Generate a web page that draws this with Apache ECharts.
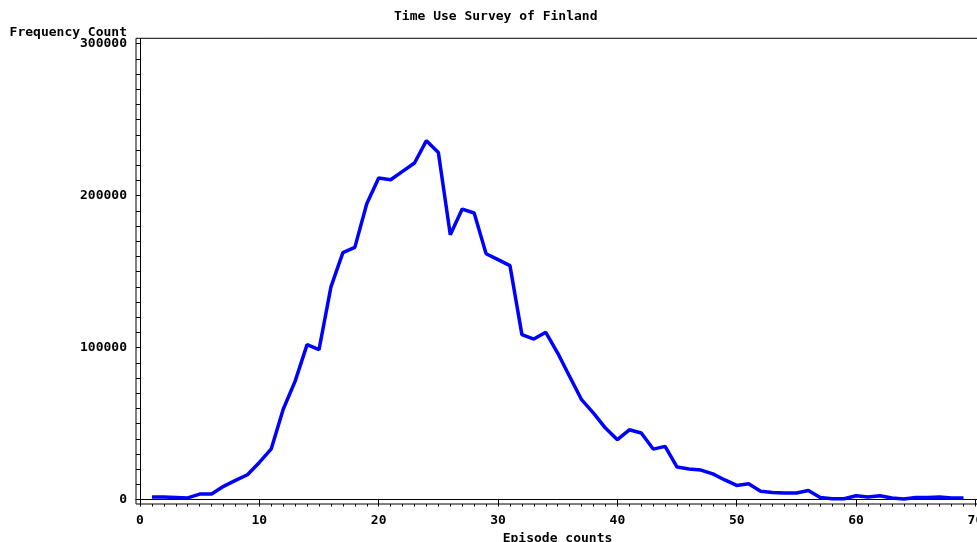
<!DOCTYPE html>
<html>
<head>
<meta charset="utf-8">
<title>Time Use Survey of Finland</title>
<script src="https://cdn.jsdelivr.net/npm/echarts@6/dist/echarts.min.js"></script>
<style>
  html, body { margin: 0; padding: 0; background: #fff; }
  #chart { width: 977px; height: 542px; }
</style>
</head>
<body>
<div id="chart"></div>
<script>
// episode counts (x) and frequency count (y)
var episodes = [1, 2, 3, 4, 5, 6, 7, 8, 9, 10,
  11, 12, 13, 14, 15, 16, 17, 18, 19, 20,
  21, 22, 23, 24, 25, 26, 27, 28, 29, 30,
  31, 32, 33, 34, 35, 36, 37, 38, 39, 40,
  41, 42, 43, 44, 45, 46, 47, 48, 49, 50,
  51, 52, 53, 54, 55, 56, 57, 58, 59, 60,
  61, 62, 63, 64, 65, 66, 67, 68, 69]
var counts = [1800, 1800, 1500, 1200, 3700, 3700, 8800, 12700, 16400, 24500,
  33500, 59500, 78000, 102000, 98700, 140000, 162500, 166000, 194700, 211600,
  210500, 216000, 221500, 236200, 228500, 174300, 191200, 188600, 161800, 157900,
  154000, 108600, 105700, 110100, 96500, 81100, 65800, 57000, 47100, 39500,
  46000, 43900, 33300, 35100, 21500, 20200, 19500, 17000, 13000, 9400,
  10500, 5500, 4800, 4400, 4400, 6100, 1500, 700, 600, 2600,
  1800, 2600, 1100, 400, 1500, 1500, 1800, 1100, 1100]

// tick labels
var xLabels = [0, 10, 20, 30, 40, 50, 60, 70]
var yLabels = [0, 100000, 200000, 300000]

// minor ticks: every episode on x, every 10000 on y
var xMinor = []
for (var i = 0; i <= 70; i++) xMinor.push(i)
var yMinor = []
for (var j = 0; j <= 300000; j += 10000) yMinor.push(j)

var sasFont = "'DejaVu Sans Mono', monospace"
var txt = { fontFamily: sasFont, fontSize: 13, fontWeight: "bold", color: "#000" }

var chartDom = echarts.init(document.getElementById("chart"))

var option = {
  backgroundColor: "#fff",
  animation: false,
  title: [
    {
      text: "Time Use Survey of Finland",
      left: 394,
      top: 10,
      padding: 0,
      textStyle: txt
    },
    {
      text: "Frequency Count",
      right: 850,
      top: 26,
      padding: 0,
      textStyle: txt
    }
  ],
  grid: {
    left: 136,
    top: 38.3,
    width: 843,
    height: 465.7,
    show: true,
    borderColor: "#000",
    borderWidth: 1,
    containLabel: false,
    outerBoundsMode: "none"
  },
  xAxis: [
    {
      type: "value",
      position: "bottom",
      min: -0.335,
      max: 70.3,
      name: "Episode counts",
      nameLocation: "middle",
      nameGap: 27,
      nameTextStyle: txt,
      axisLine: { show: true, lineStyle: { color: "#000", width: 1 } },
      axisTick: { show: true, length: 4.5, customValues: xLabels, lineStyle: { color: "#000" } },
      axisLabel: Object.assign({
        customValues: xLabels,
        margin: 10,
        formatter: function (v) { return String(v) }
      }, txt),
      splitLine: { show: false }
    },
    {
      // minor ticks only
      type: "value",
      position: "bottom",
      min: -0.335,
      max: 70.3,
      axisLine: { show: false },
      axisTick: { show: true, length: 2.5, customValues: xMinor, lineStyle: { color: "#000" } },
      axisLabel: { show: false },
      splitLine: { show: false }
    }
  ],
  yAxis: [
    {
      type: "value",
      position: "left",
      min: -2830,
      max: 303550,
      axisLine: { show: true, lineStyle: { color: "#000", width: 1 } },
      axisTick: { show: true, length: 4, customValues: yMinor, lineStyle: { color: "#000" } },
      axisLabel: Object.assign({
        customValues: yLabels,
        margin: 9,
        formatter: function (v) { return String(v) }
      }, txt),
      splitLine: { show: false }
    }
  ],
  series: [
    {
      type: "line",
      xAxisIndex: 0,
      yAxisIndex: 0,
      symbol: "none",
      lineStyle: { color: "#0000ff", width: 3.5 },
      data: episodes.map(function (v, k) { return [v, counts[k]] })
    }
  ]
}

chartDom.setOption(option)
</script>
</body>
</html>
